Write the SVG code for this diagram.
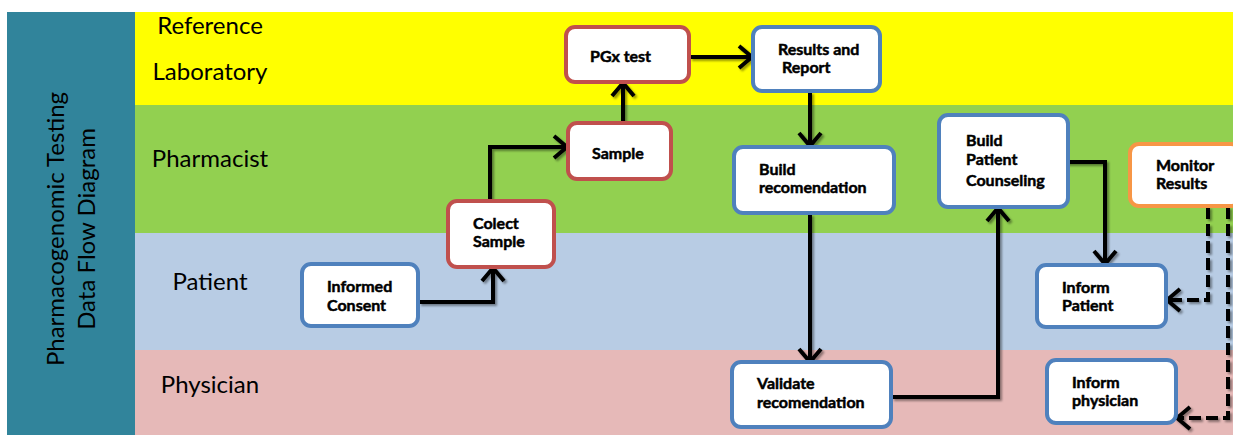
<svg xmlns="http://www.w3.org/2000/svg" width="1233" height="435" viewBox="0 0 1233 435">
<style>
.lane{font-family:Lato,"Open Sans",sans-serif;font-size:24px;fill:#000}
.side{font-family:Lato,"Open Sans",sans-serif;font-size:24px;fill:#000}
.box{fill:#fff;stroke-width:4}
.red{stroke:#C0504D}
.blue{stroke:#4F81BD}
.orange{stroke:#F79646}
.lbl{font-family:Lato,"Open Sans",sans-serif;font-size:16px;font-weight:bold;fill:#000;stroke:#000;stroke-width:0.5}
.con{fill:none;stroke:#000;stroke-width:4;marker-end:url(#arr)}
.dash{stroke-dasharray:12 5}
</style>
<defs>
<marker id="arr" viewBox="0 0 18 28" refX="15" refY="14" markerWidth="18" markerHeight="28" markerUnits="userSpaceOnUse" orient="auto">
<path d="M2,3 L15,14 L2,25" fill="none" stroke="#000" stroke-width="4"/>
</marker>
<filter id="sh" x="-10%" y="-10%" width="120%" height="120%">
<feDropShadow dx="2" dy="2" stdDeviation="0.8" flood-color="#000" flood-opacity="0.4"/>
</filter>
</defs>
<rect x="0" y="0" width="1233" height="435" fill="#fff"/>
<g id="lanes">
<rect x="7" y="12" width="128" height="423" fill="#31849B"/>
<rect x="135" y="12" width="1098" height="93" fill="#FFFF00"/>
<rect x="135" y="105" width="1098" height="128" fill="#92D050"/>
<rect x="135" y="233" width="1098" height="117" fill="#B8CCE4"/>
<rect x="135" y="350" width="1098" height="85" fill="#E6B9B8"/>
<text class="lane" x="210" y="34" text-anchor="middle">Reference</text>
<text class="lane" x="210" y="80" text-anchor="middle">Laboratory</text>
<text class="lane" x="210" y="167" text-anchor="middle">Pharmacist</text>
<text class="lane" x="210" y="290" text-anchor="middle">Patient</text>
<text class="lane" x="210" y="393" text-anchor="middle">Physician</text>
<text class="side" transform="translate(64,229) rotate(-90)" text-anchor="middle">Pharmacogenomic Testing</text>
<text class="side" transform="translate(95,229) rotate(-90)" text-anchor="middle">Data Flow Diagram</text>
</g>
<g id="connectors" filter="url(#sh)">
<path class="con" d="M419,302 H493 V268"/>
<path class="con" d="M490,200 V147 H567"/>
<path class="con" d="M623,122 V83"/>
<path class="con" d="M690,57 H752"/>
<path class="con" d="M810,92 V146"/>
<path class="con" d="M810,214 V362"/>
<path class="con" d="M892,397 H998 V208"/>
<path class="con" d="M1064,162 H1105 V264"/>
<path class="con dash" d="M1208,207 V300 H1167"/>
<path class="con dash" d="M1228,207 V418 H1177"/>
</g>
<g id="pgx"><rect class="box red" x="566" y="27" width="123" height="55" rx="9"/><text class="lbl" x="590" y="62">PGx test</text></g>
<g id="sample"><rect class="box red" x="568" y="123" width="103" height="56" rx="9"/><text class="lbl" x="592" y="159">Sample</text></g>
<g id="colect"><rect class="box red" x="448" y="201" width="106" height="66" rx="9"/><text class="lbl" x="473" y="229">Colect</text><text class="lbl" x="473" y="247">Sample</text></g>
<g id="consent"><rect class="box blue" x="302" y="264" width="116" height="62" rx="9"/><text class="lbl" x="327" y="292">Informed</text><text class="lbl" x="327" y="311">Consent</text></g>
<g id="results"><rect class="box blue" x="753" y="27" width="127" height="64" rx="9"/><text class="lbl" x="778" y="55">Results and</text><text class="lbl" x="782" y="73">Report</text></g>
<g id="buildrec"><rect class="box blue" x="734" y="147" width="160" height="66" rx="9"/><text class="lbl" x="759" y="175">Build</text><text class="lbl" x="759" y="193">recomendation</text></g>
<g id="counsel"><rect class="box blue" x="939" y="115" width="129" height="92" rx="9"/><text class="lbl" x="966" y="146">Build</text><text class="lbl" x="966" y="165">Patient</text><text class="lbl" x="966" y="186">Counseling</text></g>
<g id="monitor"><rect class="box orange" x="1130" y="144" width="110" height="62" rx="9"/><text class="lbl" x="1156" y="171">Monitor</text><text class="lbl" x="1156" y="189">Results</text></g>
<g id="informpatient"><rect class="box blue" x="1037" y="265" width="129" height="62" rx="9"/><text class="lbl" x="1062" y="293">Inform</text><text class="lbl" x="1062" y="311">Patient</text></g>
<g id="validate"><rect class="box blue" x="732" y="362" width="159" height="65" rx="9"/><text class="lbl" x="757" y="389">Validate</text><text class="lbl" x="757" y="408">recomendation</text></g>
<g id="informphys"><rect class="box blue" x="1047" y="360" width="129" height="63" rx="9"/><text class="lbl" x="1072" y="388">Inform</text><text class="lbl" x="1072" y="406">physician</text></g>
</svg>
